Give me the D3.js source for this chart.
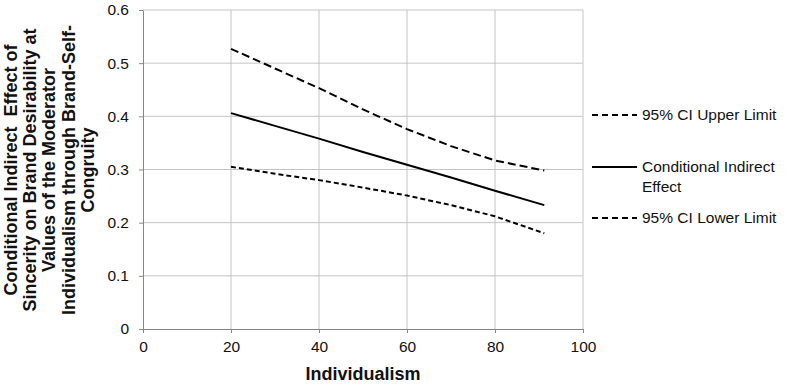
<!DOCTYPE html>
<html lang="en">
    <head>
        <meta charset="utf-8">
        <title>Conditional Indirect Effect</title>
        <script src="https://d3js.org/d3.v7.min.js"></script>
        <style type="text/css">
            body { margin: 0; background: #fff; }
            text { font-family: "Liberation Sans", Arial, sans-serif; fill: #111; }
            .axis path, .axis line { stroke: #868686; }
            .grid line { stroke: #c4c4c4; }
        </style>
    </head>
    <body>
        <script type="text/javascript">

            // data
            const individualism = [20, 30, 40, 50, 60, 70, 80, 91.2];
            const upperLimit = [0.527, 0.490, 0.453, 0.413, 0.376, 0.344, 0.317, 0.298];
            const indirectEffect = [0.406, 0.382, 0.358, 0.333, 0.309, 0.285, 0.260, 0.233];
            const lowerLimit = [0.305, 0.292, 0.280, 0.266, 0.251, 0.233, 0.212, 0.180];

            const xTicks = [0, 20, 40, 60, 80, 100];
            const yTicks = [0, 0.1, 0.2, 0.3, 0.4, 0.5, 0.6];

            const seriesNames = ["95% CI Upper Limit", "Conditional Indirect Effect", "95% CI Lower Limit"];
            const seriesDash = ["8,4", null, "5,3"];

            const svgW = 785;
            const svgH = 386;

            const xScale = d3.scaleLinear().domain([0, 100]).range([143, 583]);
            const yScale = d3.scaleLinear().domain([0, 0.6]).range([329, 10]);

            const svg = d3.select("body")
                        .append("svg")
                        .attr("width", svgW)
                        .attr("height", svgH);

            // gridlines
            const grid = svg.append("g").attr("class", "grid");
            grid.selectAll(".gy")
                .data(yTicks.filter(d => d > 0))
                .enter()
                .append("line")
                .attr("x1", xScale(0))
                .attr("x2", xScale(100))
                .attr("y1", d => yScale(d))
                .attr("y2", d => yScale(d));
            grid.selectAll(".gx")
                .data(xTicks.filter(d => d > 0))
                .enter()
                .append("line")
                .attr("x1", d => xScale(d))
                .attr("x2", d => xScale(d))
                .attr("y1", yScale(0))
                .attr("y2", yScale(0.6));

            // axes
            const bottomAxis = d3.axisBottom(xScale).tickValues(xTicks).tickSize(4).tickPadding(8).tickSizeOuter(0);
            const leftAxis = d3.axisLeft(yScale).tickValues(yTicks).tickSize(4).tickPadding(10).tickSizeOuter(0)
                               .tickFormat(d => d === 0 ? "0" : d3.format(".1f")(d));

            svg.append("g")
                .attr("class", "axis")
                .attr("transform", "translate(0," + yScale(0) + ")")
                .call(bottomAxis)
                .call(g => g.selectAll("text").attr("font-size", "15.5px").attr("font-family", null).attr("fill", "#111"));

            svg.append("g")
                .attr("class", "axis")
                .attr("transform", "translate(" + xScale(0) + ",0)")
                .call(leftAxis)
                .call(g => g.selectAll("text").attr("font-size", "15.5px").attr("font-family", null).attr("fill", "#111"));

            // lines
            const allSeries = [upperLimit, indirectEffect, lowerLimit];
            const line = d3.line()
                           .x((d, i) => xScale(individualism[i]))
                           .y(d => yScale(d));

            svg.selectAll(".series")
                .data(allSeries)
                .enter()
                .append("path")
                .attr("d", d => line(d))
                .attr("fill", "none")
                .attr("stroke", "#000")
                .attr("stroke-width", 2)
                .attr("stroke-dasharray", (d, i) => seriesDash[i]);

            // axis titles
            svg.append("text")
                .attr("x", 363)
                .attr("y", 380)
                .attr("text-anchor", "middle")
                .attr("font-weight", "bold")
                .attr("font-size", "18px")
                .text("Individualism");

            const yTitle = ["Conditional Indirect  Effect of", "Sincerity on Brand Desirability at",
                            "Values of the Moderator", "Individualism through Brand-Self-", "Congruity"];
            svg.append("text")
                .attr("transform", "translate(17,170) rotate(-90)")
                .attr("text-anchor", "middle")
                .attr("font-weight", "bold")
                .attr("font-size", "18px")
                .attr("xml:space", "preserve")
                .selectAll("tspan")
                .data(yTitle)
                .enter()
                .append("tspan")
                .attr("x", 0)
                .attr("y", (d, i) => i * 19.2)
                .text(d => d);

            // legend
            const legendY = [115, 167, 218];
            const legend = svg.selectAll(".legend")
                              .data(seriesNames)
                              .enter()
                              .append("g")
                              .attr("transform", (d, i) => "translate(592," + legendY[i] + ")");
            legend.append("line")
                  .attr("x1", 0)
                  .attr("x2", 45)
                  .attr("stroke", "#000")
                  .attr("stroke-width", 2)
                  .attr("stroke-dasharray", (d, i) => seriesDash[i] ? "6,4" : null);
            legend.append("text")
                  .attr("x", 50)
                  .attr("font-size", "15.5px")
                  .selectAll("tspan")
                  .data(d => d === "Conditional Indirect Effect" ? ["Conditional Indirect", "Effect"] : [d])
                  .enter()
                  .append("tspan")
                  .attr("x", 50)
                  .attr("y", (d, i) => i * 20)
                  .attr("dy", "0.35em")
                  .text(d => d);

        </script>
    </body>
</html>
